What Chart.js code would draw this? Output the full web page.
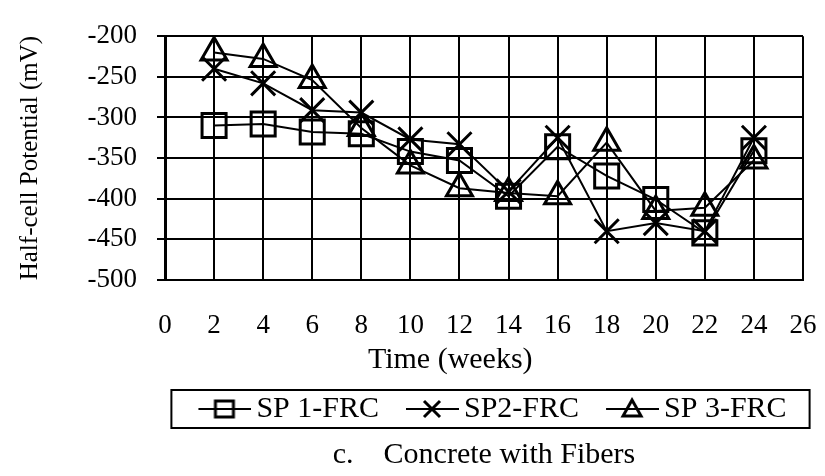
<!DOCTYPE html>
<html>
<head>
<meta charset="utf-8">
<script src="https://cdn.jsdelivr.net/npm/chart.js@4.4.1/dist/chart.umd.min.js"></script>
<style>
  html, body { margin: 0; padding: 0; background: #fff; }
  #wrap { width: 825px; height: 476px; }
</style>
</head>
<body>
<div id="wrap"><canvas id="myChart" width="825" height="476"></canvas></div>
<script>
// weeks
const weeks = [2, 4, 6, 8, 10, 12, 14, 16, 18, 20, 22, 24];
// half-cell potential readings (mV)
const sp1 = [-310, -308, -318, -320, -342, -353, -397, -336, -372, -401, -442, -341];
const sp2 = [-240, -258, -291, -294, -327, -333, -391, -325, -440, -430, -440, -325];
const sp3 = [-220, -228, -254, -313, -359, -387, -393, -397, -331, -415, -411, -353];
const seriesNames = ["SP 1-FRC", "SP2-FRC", "SP 3-FRC"];
const xTicks = [0, 2, 4, 6, 8, 10, 12, 14, 16, 18, 20, 22, 24, 26];
const yTicks = [-500, -450, -400, -350, -300, -250, -200];

const FONT = "'Liberation Serif', 'Times New Roman', serif";

function toXY(vals) {
  return vals.map(function (v, i) { return { x: weeks[i], y: v }; });
}

// legend pictures: a short line with the marker on it
function legendIcon(kind) {
  var c = document.createElement("canvas");
  c.width = 80;
  c.height = 24;
  var g = c.getContext("2d");
  g.strokeStyle = "#000";
  g.lineWidth = 2;
  g.beginPath();
  g.moveTo(27, 12);
  g.lineTo(80, 12);
  g.stroke();
  g.lineWidth = 3;
  var cx = 53, cy = 12;
  g.beginPath();
  if (kind === "rect") {
    g.rect(cx - 9, cy - 8, 18, 16);
  } else if (kind === "crossRot") {
    g.moveTo(cx - 8, cy - 8); g.lineTo(cx + 8, cy + 8);
    g.moveTo(cx + 8, cy - 8); g.lineTo(cx - 8, cy + 8);
  } else {
    g.moveTo(cx, cy - 9); g.lineTo(cx + 9, cy + 7); g.lineTo(cx - 9, cy + 7); g.closePath();
  }
  g.stroke();
  return c;
}
const icons = [legendIcon("rect"), legendIcon("crossRot"), legendIcon("triangle")];

// frame around the legend
const legendBox = {
  id: "legendBox",
  afterDraw: function (chart) {
    var hb = chart.legend.legendHitBoxes;
    if (!hb || !hb.length) return;
    var left = Math.min.apply(null, hb.map(function (h) { return h.left; }));
    var right = Math.max.apply(null, hb.map(function (h) { return h.left + h.width; }));
    var top = hb[0].top;
    var ctx = chart.ctx;
    ctx.save();
    ctx.strokeStyle = "#000";
    ctx.lineWidth = 2;
    ctx.strokeRect(left - 10, top - 4, (right - left) + 33, hb[0].height + 8);
    ctx.restore();
  }
};

const styles = ["rect", "crossRot", "triangle"];
const radii = [17, 17, 15];
const allData = [sp1, sp2, sp3];

var ctx = document.getElementById("myChart").getContext("2d");
var myChart = new Chart(ctx, {
  type: "line",
  data: {
    datasets: allData.map(function (vals, i) {
      return {
        label: seriesNames[i],
        data: toXY(vals),
        borderColor: "#000",
        borderWidth: 2,
        backgroundColor: "rgba(0,0,0,0)",
        pointStyle: styles[i],
        pointRadius: radii[i],
        pointBorderWidth: 3,
        pointBorderColor: "#000",
        pointBackgroundColor: "rgba(0,0,0,0)",
        tension: 0,
        fill: false
      };
    })
  },
  options: {
    responsive: false,
    animation: false,
    layout: { padding: { top: 15, right: 22, left: 0, bottom: 0 } },
    scales: {
      x: {
        type: "linear",
        min: 0,
        max: 26,
        afterBuildTicks: function (axis) {
          axis.ticks = xTicks.map(function (v) { return { value: v }; });
        },
        afterFit: function (axis) {
          axis.paddingRight = 0;
          axis.paddingLeft = 0;
          axis.height = 104;
        },
        grid: { color: "#000", lineWidth: 2, drawTicks: false },
        border: { color: "#000", width: 2 },
        ticks: { color: "#000", font: { family: FONT, size: 27 }, padding: 30, maxRotation: 0, autoSkip: false },
        title: {
          display: true,
          text: "Time (weeks)         ",
          color: "#000",
          font: { family: FONT, size: 30 },
          padding: { top: 0, bottom: 6 }
        }
      },
      y: {
        min: -500,
        max: -200,
        afterBuildTicks: function (axis) {
          axis.ticks = yTicks.map(function (v) { return { value: v }; });
        },
        afterFit: function (axis) {
          axis.width = 165;
        },
        grid: { color: "#000", lineWidth: 2, tickLength: 8 },
        border: { color: "#000", width: 3 },
        ticks: { color: "#000", font: { family: FONT, size: 27 }, padding: 20, autoSkip: false },
        title: {
          display: true,
          text: "Half-cell Potential (mV)",
          color: "#000",
          font: { family: FONT, size: 25 },
          padding: { top: 15, bottom: 0 }
        }
      }
    },
    plugins: {
      legend: {
        position: "bottom",
        fullSize: false,
        labels: {
          usePointStyle: true,
          pointStyleWidth: 60,
          color: "#000",
          font: { family: FONT, size: 30 },
          padding: 10,
          generateLabels: function (chart) {
            var items = Chart.defaults.plugins.legend.labels.generateLabels(chart);
            items.forEach(function (it, i) { it.pointStyle = icons[i]; });
            return items;
          }
        }
      },
      title: {
        display: true,
        position: "bottom",
        fullSize: false,
        text: "c.    Concrete with Fibers",
        color: "#000",
        font: { family: FONT, size: 30, weight: "normal" },
        padding: { top: 3, bottom: 3 }
      },
      tooltip: { enabled: false }
    }
  },
  plugins: [legendBox]
});
</script>
</body>
</html>
